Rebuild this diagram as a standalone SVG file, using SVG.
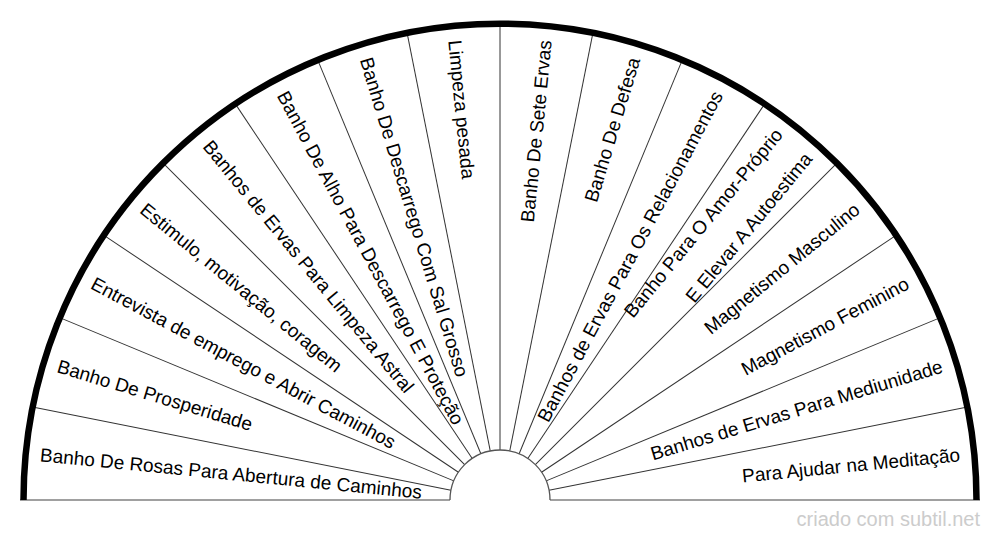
<svg xmlns="http://www.w3.org/2000/svg" width="1000" height="540" viewBox="0 0 1000 540">
<style>
.lbl{font-family:"Liberation Sans",Arial,sans-serif;font-size:19px;fill:#000;dominant-baseline:central}
.l{text-anchor:start}
.r{text-anchor:end}
.sep{stroke:#333;stroke-width:1;fill:none}
.base{stroke:#808080;stroke-width:1.6;fill:none}
.inner{stroke:#555;stroke-width:1.3;fill:none}
.outer{stroke:#000;stroke-width:6.5;fill:none}
.wm{font-family:"Liberation Sans",Arial,sans-serif;font-size:20px;fill:#ccc;text-anchor:end}
</style>
<rect x="0" y="0" width="1000" height="540" fill="#fff"/>
<g id="connectors">
<line class="sep" x1="26" y1="500" x2="450" y2="500" transform="rotate(11.25 500 500)"/>
<line class="sep" x1="26" y1="500" x2="450" y2="500" transform="rotate(22.5 500 500)"/>
<line class="sep" x1="26" y1="500" x2="450" y2="500" transform="rotate(33.75 500 500)"/>
<line class="sep" x1="26" y1="500" x2="450" y2="500" transform="rotate(45 500 500)"/>
<line class="sep" x1="26" y1="500" x2="450" y2="500" transform="rotate(56.25 500 500)"/>
<line class="sep" x1="26" y1="500" x2="450" y2="500" transform="rotate(67.5 500 500)"/>
<line class="sep" x1="26" y1="500" x2="450" y2="500" transform="rotate(78.75 500 500)"/>
<line class="sep" x1="500" y1="26" x2="500" y2="450" stroke="#777"/>
<line class="sep" x1="26" y1="500" x2="450" y2="500" transform="rotate(101.25 500 500)"/>
<line class="sep" x1="26" y1="500" x2="450" y2="500" transform="rotate(112.5 500 500)"/>
<line class="sep" x1="26" y1="500" x2="450" y2="500" transform="rotate(123.75 500 500)"/>
<line class="sep" x1="26" y1="500" x2="450" y2="500" transform="rotate(135 500 500)"/>
<line class="sep" x1="26" y1="500" x2="450" y2="500" transform="rotate(146.25 500 500)"/>
<line class="sep" x1="26" y1="500" x2="450" y2="500" transform="rotate(157.5 500 500)"/>
<line class="sep" x1="26" y1="500" x2="450" y2="500" transform="rotate(168.75 500 500)"/>
<line class="base" x1="20" y1="500" x2="450" y2="500"/>
<line class="base" x1="550" y1="500" x2="980" y2="500"/>
<path class="inner" d="M450,500 A50,50 0 0 1 550,500"/>
<path class="outer" d="M23.5,500 A476.5,476.5 0 0 1 976.5,500"/>
</g>
<g id="n1"><text class="lbl l" x="38" y="500" transform="rotate(5.625 500 500)">Banho De Rosas Para Abertura de Caminhos</text></g>
<g id="n2"><text class="lbl l" x="38" y="500" transform="rotate(16.875 500 500)">Banho De Prosperidade</text></g>
<g id="n3"><text class="lbl l" x="38" y="500" transform="rotate(28.125 500 500)">Entrevista de emprego e Abrir Caminhos</text></g>
<g id="n4"><text class="lbl l" x="38" y="500" transform="rotate(39.375 500 500)">Estimulo, motivação, coragem</text></g>
<g id="n5"><text class="lbl l" x="38" y="500" transform="rotate(50.625 500 500)">Banhos de Ervas Para Limpeza Astral</text></g>
<g id="n6"><text class="lbl l" x="38" y="500" transform="rotate(61.875 500 500)">Banho De Alho Para Descarrego E Proteção</text></g>
<g id="n7"><text class="lbl l" x="38" y="500" transform="rotate(73.125 500 500)">Banho De Descarrego Com Sal Grosso</text></g>
<g id="n8"><text class="lbl l" x="38" y="500" transform="rotate(84.375 500 500)">Limpeza pesada</text></g>
<g id="n9"><text class="lbl r" x="962" y="500" transform="rotate(-84.375 500 500)">Banho De Sete Ervas</text></g>
<g id="n10"><text class="lbl r" x="962" y="500" transform="rotate(-73.125 500 500)">Banho De Defesa</text></g>
<g id="n11"><text class="lbl r" x="962" y="500" transform="rotate(-61.875 500 500)">Banhos de Ervas Para Os Relacionamentos</text></g>
<g id="n12"><text class="lbl r" transform="rotate(-50.625 500 500)"><tspan x="962" y="481">Banho Para O Amor-Próprio</tspan><tspan x="962" y="519">E Elevar A Autoestima</tspan></text></g>
<g id="n13"><text class="lbl r" x="962" y="500" transform="rotate(-39.375 500 500)">Magnetismo Masculino</text></g>
<g id="n14"><text class="lbl r" x="962" y="500" transform="rotate(-28.125 500 500)">Magnetismo Feminino</text></g>
<g id="n15"><text class="lbl r" x="962" y="500" transform="rotate(-16.875 500 500)">Banhos de Ervas Para Mediunidade</text></g>
<g id="n16"><text class="lbl r" x="962" y="500" transform="rotate(-5.625 500 500)">Para Ajudar na Meditação</text></g>
<text class="wm" x="980" y="526">criado com subtil.net</text>
</svg>
